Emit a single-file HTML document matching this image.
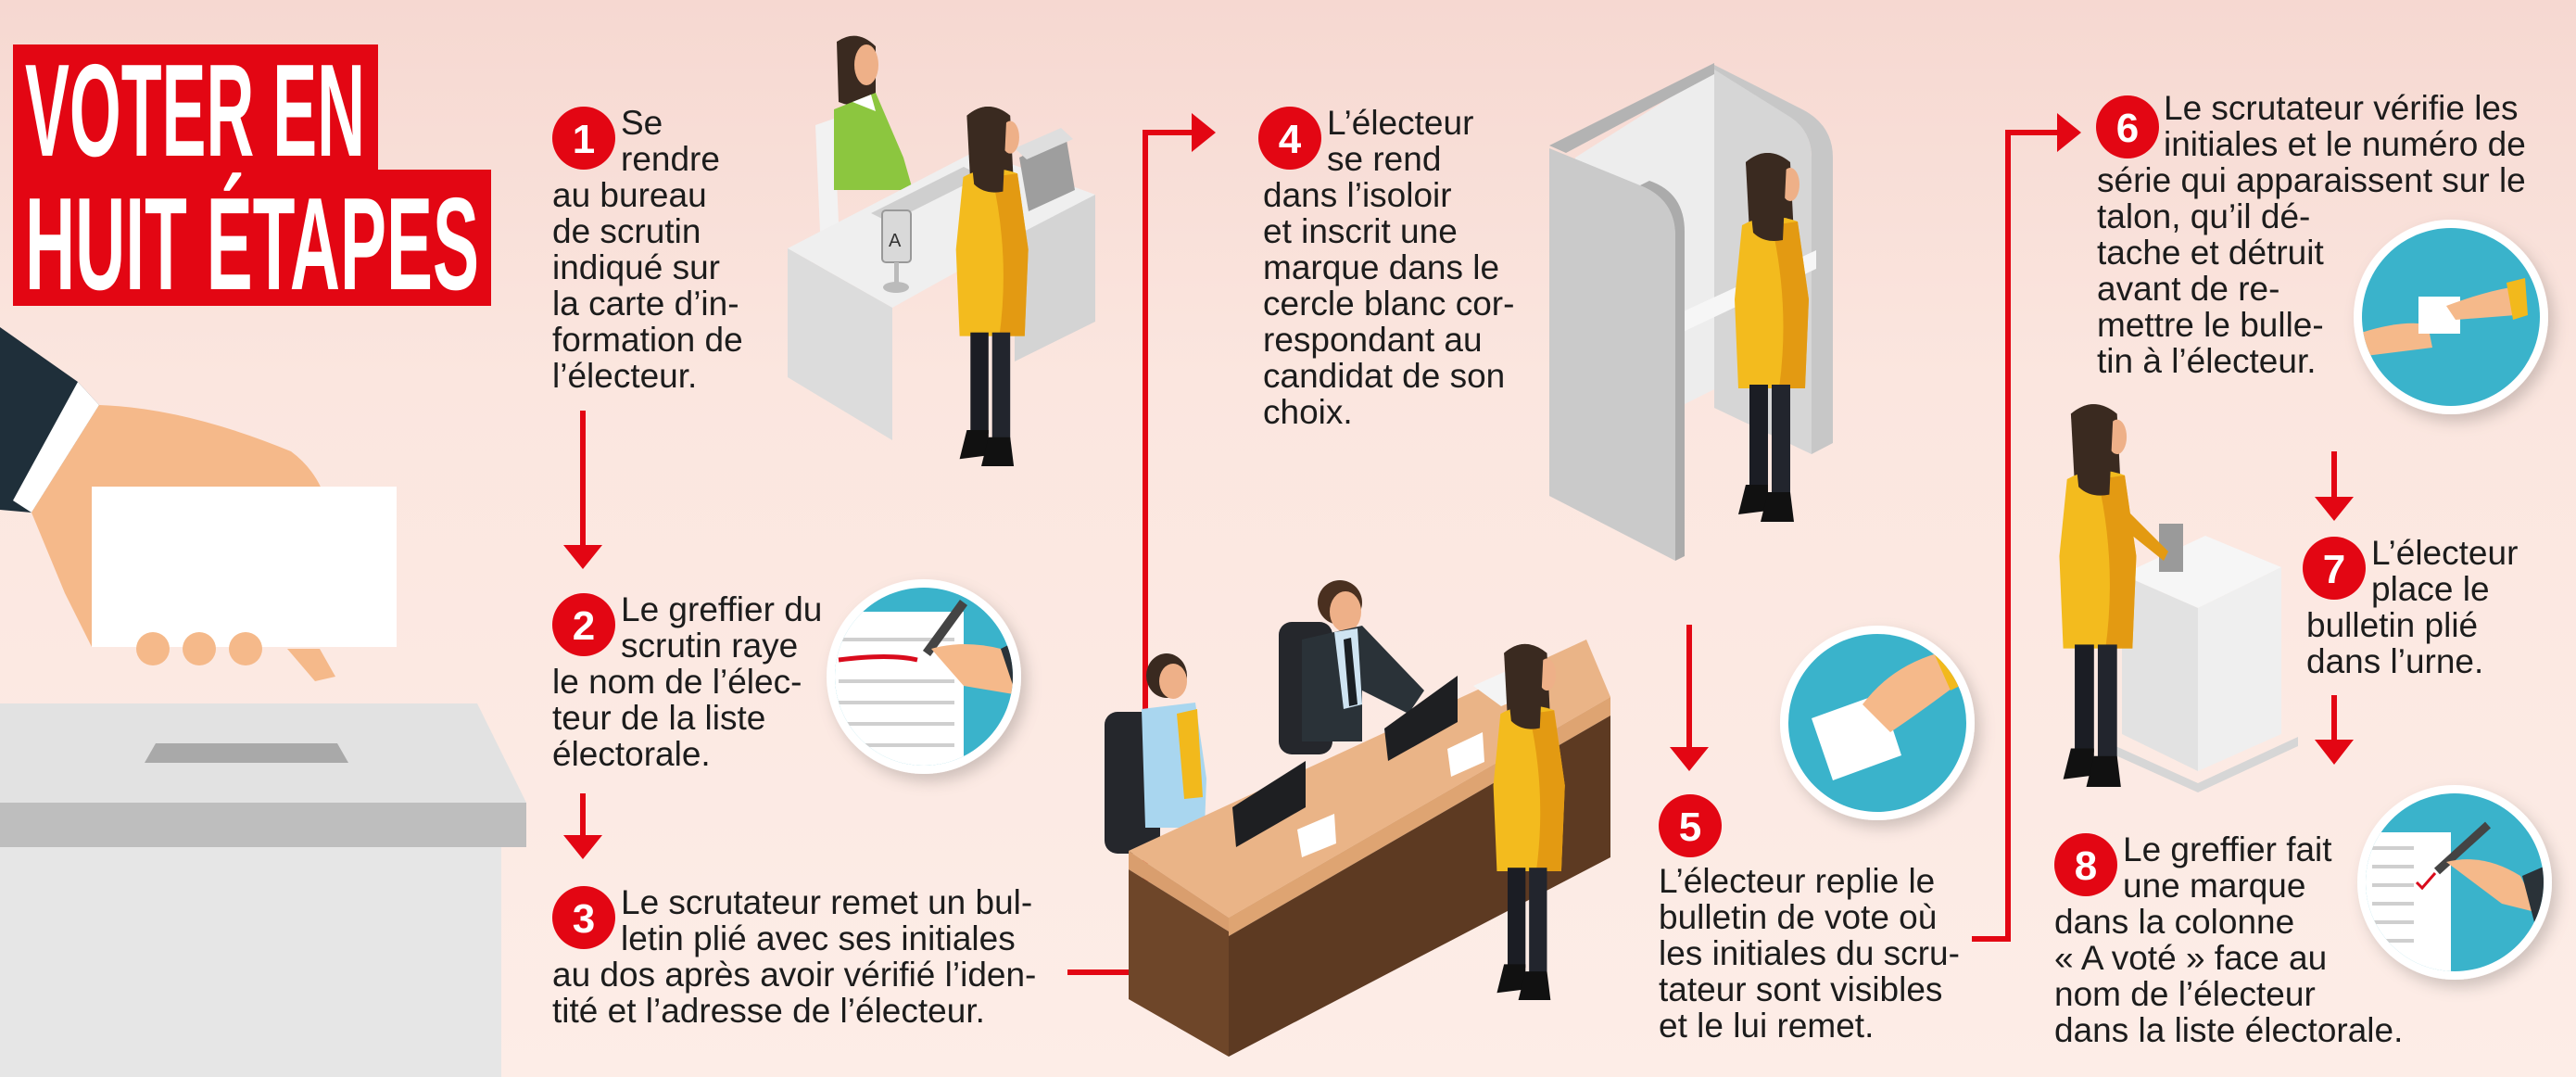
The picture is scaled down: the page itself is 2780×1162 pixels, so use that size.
<!DOCTYPE html>
<html><head><meta charset="utf-8"><style>
html,body{margin:0;padding:0;}
body{width:2780px;height:1162px;overflow:hidden;}
svg{display:block;}
.t{font-family:"Liberation Sans",sans-serif;font-size:37px;fill:#1c1c1c;}
.n{font-family:"Liberation Sans",sans-serif;font-weight:bold;font-size:44px;fill:#fff;text-anchor:middle;}
</style></head><body>
<svg width="2780" height="1162" viewBox="0 0 2780 1162" xmlns="http://www.w3.org/2000/svg">
<defs>
<linearGradient id="bg" x1="0" y1="0" x2="0" y2="1">
<stop offset="0" stop-color="#f6d8d1"/><stop offset="0.35" stop-color="#fbe6df"/><stop offset="1" stop-color="#fdede7"/>
</linearGradient>
<filter id="sh" x="-30%" y="-30%" width="160%" height="160%"><feDropShadow dx="6" dy="8" stdDeviation="8" flood-color="#000" flood-opacity="0.18"/></filter>
<g id="woman">
<path d="M6,3 Q12,-2 18,3 L19,23 Q13,25 7,22 Z" fill="#3a2a20"/>
<ellipse cx="18" cy="9" rx="2.5" ry="4.5" fill="#eeb088"/>
<path d="M5,20 Q12,16 20,19 L23,40 L22,64 L4,64 L3,40 Z" fill="#f3bb1e"/>
<path d="M13,20 L20,19 L23,40 L22,64 L15,64 Q18,42 13,20 Z" fill="#e39a12"/>
<path d="M6,3 Q12,-2 17,3 L16,24 Q11,25 8,22 Z" fill="#3a2a20"/>
<rect x="7" y="63" width="5" height="28" fill="#1b1d24"/>
<rect x="13" y="63" width="5" height="30" fill="#22252d"/>
<path d="M6,90 L12,90 L12,97 L4,98 Z" fill="#111"/>
<path d="M12,92 L18,92 L19,100 L10,100 Z" fill="#111"/>
</g>
</defs>
<rect width="2780" height="1162" fill="url(#bg)"/>

<!-- connectors (behind illustrations) -->
<g stroke="#e30613" stroke-width="6" fill="none">
<line x1="629" y1="443" x2="629" y2="592"/>
<line x1="629" y1="856" x2="629" y2="905"/>
<line x1="1823" y1="674" x2="1823" y2="810"/>
<line x1="2519" y1="487" x2="2519" y2="540"/>
<line x1="2519" y1="750" x2="2519" y2="802"/>
<polyline points="1152,1049 1236,1049 1236,143 1288,143"/>
<polyline points="2128,1013 2167,1013 2167,143 2222,143"/>
</g>
<g fill="#e30613">
<path d="M608,588 L650,588 L629,614 Z"/>
<path d="M608,901 L650,901 L629,927 Z"/>
<path d="M1802,806 L1844,806 L1823,832 Z"/>
<path d="M2498,536 L2540,536 L2519,562 Z"/>
<path d="M2498,798 L2540,798 L2519,825 Z"/>
<path d="M1286,122 L1312,143 L1286,164 Z"/>
<path d="M2220,122 L2246,143 L2220,164 Z"/>
</g>

<!-- title -->
<rect x="14" y="48" width="394" height="136" fill="#e30613"/>
<rect x="14" y="183" width="516" height="147" fill="#e30613"/>
<text x="27" y="168" font-family="Liberation Sans,sans-serif" font-weight="bold" font-size="142" fill="#fff" textLength="367" lengthAdjust="spacingAndGlyphs">VOTER EN</text>
<text x="27" y="312" font-family="Liberation Sans,sans-serif" font-weight="bold" font-size="142" fill="#fff" textLength="490" lengthAdjust="spacingAndGlyphs">HUIT ÉTAPES</text>

<!-- left hand & ballot box -->
<path d="M0,353 L84,412 L107,437 L34,553 L0,550 Z" fill="#1f2f3a"/>
<path d="M84,412 L107,437 L34,553 L14,540 Z" fill="#fff"/>
<path d="M107,437 Q200,440 314,487 Q345,510 354,548 Q345,562 322,555 L300,530 L250,525 L120,530 L99,698 L70,640 L34,553 Z" fill="#f5b98a"/>
<rect x="99" y="525" width="329" height="173" fill="#fff"/>
<circle cx="165" cy="700" r="18" fill="#f5b98a"/><circle cx="215" cy="700" r="18" fill="#f5b98a"/><circle cx="265" cy="700" r="18" fill="#f5b98a"/>
<path d="M310,700 L345,700 L362,730 L340,735 Z" fill="#f5b98a"/>
<path d="M35,759 L515,759 L568,866 L0,866 L0,759 Z" fill="#e2e2e2"/>
<path d="M168,802 L364,802 L376,823 L156,823 Z" fill="#a9a9a9"/>
<rect x="0" y="866" width="568" height="48" fill="#bebebe"/>
<rect x="0" y="914" width="541" height="248" fill="#e6e6e6"/>

<!-- scene 1 desk -->
<path d="M880,135 L900,128 L905,240 L885,250 Z" fill="#f2f2f2"/>
<path d="M903,45 Q925,30 945,50 L945,110 Q925,118 905,110 Z" fill="#3a2a20"/>
<ellipse cx="935" cy="70" rx="13" ry="22" fill="#eeb088"/>
<path d="M900,118 L945,100 L975,170 L985,205 L900,205 Z" fill="#8cc63f"/>
<path d="M920,110 L940,102 L945,120 Z" fill="#fff"/>
<path d="M850,268 L1053,163 L1182,210 L963,332 Z" fill="#efefef"/>
<path d="M850,268 L963,332 L963,475 L850,407 Z" fill="#dcdcdc"/>
<path d="M1095,255 L1182,210 L1182,347 L1095,390 Z" fill="#d4d4d4"/>
<path d="M940,230 L1040,180 L1060,190 L960,240 Z" fill="#cfcfcf"/>
<path d="M1100,170 L1150,145 L1160,205 L1110,228 Z" fill="#9e9e9e"/>
<path d="M1095,160 L1145,138 L1158,150 L1108,172 Z" fill="#dedede"/>
<rect x="952" y="227" width="31" height="56" rx="4" fill="#d9d9d9" stroke="#999" stroke-width="2"/>
<text x="959" y="266" font-family="Liberation Sans,sans-serif" font-size="20" fill="#333">A</text>
<rect x="965" y="283" width="5" height="25" fill="#bbb"/><ellipse cx="967" cy="310" rx="14" ry="6" fill="#bbb"/>
<use href="#woman" transform="translate(1020,113) scale(3.9)"/>

<!-- booth -->
<path d="M1700,170 L1850,75 L1850,420 L1810,440 L1700,380 Z" fill="#ededed"/>
<path d="M1850,70 L1945,118 Q1978,135 1978,170 L1978,478 L1955,490 L1955,170 Q1955,140 1930,128 L1850,88 Z" fill="#c7c7c7"/>
<path d="M1850,75 L1930,125 Q1955,140 1955,170 L1955,490 L1850,440 Z" fill="#d6d6d6"/>
<path d="M1808,340 L1960,270 L1960,290 L1808,362 Z" fill="#f6f6f6"/>
<path d="M1672,157 L1850,68 L1850,80 L1690,165 Z" fill="#b3b3b3"/>
<path d="M1672,160 L1770,200 Q1808,215 1808,255 L1808,605 L1672,535 Z" fill="#cacaca"/>
<path d="M1770,200 Q1808,215 1808,255 L1808,605 L1818,600 L1818,250 Q1818,208 1780,195 Z" fill="#ababab"/>
<use href="#woman" transform="translate(1860,163) scale(4.0)"/>

<!-- central desk scene -->
<rect x="1192" y="768" width="60" height="153" rx="14" fill="#25272c"/>
<ellipse cx="1259" cy="729" rx="22" ry="24" fill="#3a2a20"/>
<ellipse cx="1266" cy="735" rx="15" ry="19" fill="#eeb088"/>
<path d="M1232,765 L1290,758 L1302,840 L1300,893 L1236,893 Z" fill="#a9d6ef"/>
<path d="M1270,770 L1292,765 L1298,860 L1278,862 Z" fill="#f2b91c"/>
<rect x="1380" y="671" width="58" height="143" rx="14" fill="#25272c"/>
<ellipse cx="1446" cy="650" rx="24" ry="24" fill="#4a3020"/>
<ellipse cx="1452" cy="660" rx="17" ry="22" fill="#eeb088"/>
<path d="M1405,690 L1470,675 L1537,745 L1520,770 L1470,745 L1470,800 L1405,800 Z" fill="#2a3238"/>
<path d="M1440,682 L1465,678 L1470,760 L1450,765 Z" fill="#cfe4f2"/>
<path d="M1450,690 L1458,688 L1465,760 L1456,762 Z" fill="#1a1f24"/>
<path d="M1218,918 L1712,690 L1738,752 L1326,990 Z" fill="#eab487"/>
<path d="M1218,918 L1326,990 L1326,1005 L1218,938 Z" fill="#d99e6e"/>
<path d="M1326,990 L1738,752 L1738,772 L1326,1010 Z" fill="#dea472"/>
<path d="M1218,938 L1326,1005 L1326,1140 L1218,1078 Z" fill="#6e4629"/>
<path d="M1326,1010 L1738,772 L1738,925 L1326,1140 Z" fill="#5d3a22"/>
<path d="M1330,871 L1409,821 L1409,871 L1334,914 Z" fill="#1e1f22"/>
<path d="M1494,786 L1573,729 L1573,779 L1498,821 Z" fill="#1e1f22"/>
<path d="M1400,895 L1440,878 L1442,910 L1405,925 Z" fill="#fff"/>
<path d="M1562,808 L1600,790 L1602,822 L1566,838 Z" fill="#fff"/>
<path d="M1590,740 L1630,722 L1660,745 L1620,762 Z" fill="#f4f4f4"/>
<use href="#woman" transform="translate(1600,693) scale(3.86)"/>

<!-- right scene -->
<path d="M2290,620 L2380,578 L2462,612 L2372,656 Z" fill="#f6f6f6"/>
<path d="M2290,620 L2372,656 L2372,832 L2290,792 Z" fill="#e2e2e2"/>
<path d="M2372,656 L2462,612 L2462,792 L2372,832 Z" fill="#efefef"/>
<path d="M2272,800 L2372,845 L2480,795 L2480,805 L2372,855 L2272,810 Z" fill="#d6d6d6"/>
<rect x="2330" y="565" width="26" height="52" fill="#9a9a9a"/>
<use href="#woman" transform="translate(2210,434) scale(4.15)"/>
<path d="M2290,545 L2340,595 L2335,605 L2285,565 Z" fill="#e39a12"/>

<!-- circle images -->
<g filter="url(#sh)">
<circle cx="997" cy="730" r="105" fill="#fff"/>
<circle cx="2026" cy="780" r="105" fill="#fff"/>
<circle cx="2645" cy="342" r="105" fill="#fff"/>
<circle cx="2649" cy="952" r="105" fill="#fff"/>
</g>
<clipPath id="c2"><circle cx="997" cy="730" r="96"/></clipPath>
<g clip-path="url(#c2)">
<rect x="890" y="620" width="220" height="220" fill="#3ab3cb"/>
<rect x="890" y="660" width="150" height="180" fill="#fff"/>
<g stroke="#cfcfcf" stroke-width="4"><line x1="905" y1="690" x2="1030" y2="690"/><line x1="905" y1="735" x2="1030" y2="735"/><line x1="905" y1="758" x2="1030" y2="758"/><line x1="905" y1="781" x2="1030" y2="781"/><line x1="905" y1="804" x2="1030" y2="804"/></g>
<path d="M905,712 Q960,705 990,712" stroke="#d90b1c" stroke-width="5" fill="none"/>
<path d="M1000,705 L1040,650" stroke="#444" stroke-width="10"/>
<path d="M1005,700 Q1040,690 1080,700 L1100,750 L1040,740 Z" fill="#f5b98a"/>
<path d="M1080,700 L1100,690 L1100,760 Z" fill="#2a3238"/>
</g>
<clipPath id="c5"><circle cx="2026" cy="780" r="96"/></clipPath>
<g clip-path="url(#c5)">
<rect x="1920" y="680" width="220" height="220" fill="#3ab3cb"/>
<path d="M1955,775 L2030,748 L2052,815 L1978,842 Z" fill="#fff"/>
<path d="M2010,760 Q2040,720 2090,705 L2110,740 Q2070,770 2040,790 Z" fill="#f5b98a"/>
<path d="M2085,700 L2110,690 L2125,735 L2105,745 Z" fill="#f2b91c"/>
</g>
<clipPath id="c6"><circle cx="2645" cy="342" r="96"/></clipPath>
<g clip-path="url(#c6)">
<rect x="2540" y="240" width="220" height="220" fill="#3ab3cb"/>
<path d="M2545,360 Q2590,345 2620,350 L2625,375 L2545,385 Z" fill="#f5b98a"/>
<rect x="2610" y="320" width="45" height="40" fill="#fff"/>
<path d="M2640,330 Q2680,315 2710,310 L2715,340 L2650,345 Z" fill="#f5b98a"/>
<path d="M2705,305 L2725,300 L2728,340 L2712,345 Z" fill="#f2b91c"/>
</g>
<clipPath id="c8"><circle cx="2649" cy="952" r="96"/></clipPath>
<g clip-path="url(#c8)">
<rect x="2540" y="850" width="220" height="220" fill="#3ab3cb"/>
<rect x="2545" y="898" width="100" height="160" fill="#fff"/>
<g stroke="#cfcfcf" stroke-width="4"><line x1="2560" y1="915" x2="2605" y2="915"/><line x1="2560" y1="935" x2="2605" y2="935"/><line x1="2560" y1="955" x2="2605" y2="955"/><line x1="2560" y1="975" x2="2605" y2="975"/><line x1="2560" y1="995" x2="2605" y2="995"/><line x1="2560" y1="1015" x2="2605" y2="1015"/></g>
<path d="M2608,952 L2614,958 L2628,942" stroke="#d90b1c" stroke-width="3" fill="none"/>
<path d="M2630,940 L2685,890" stroke="#444" stroke-width="9"/>
<path d="M2640,930 Q2680,920 2720,945 L2740,985 L2700,975 Z" fill="#f5b98a"/>
<path d="M2722,945 L2745,935 L2745,990 L2735,995 Z" fill="#2a3238"/>
</g>

<!-- numbered circles -->
<g fill="#e30613">
<circle cx="630" cy="149" r="34"/><circle cx="630" cy="674" r="34"/><circle cx="630" cy="990" r="34"/>
<circle cx="1392" cy="149" r="34"/><circle cx="1824" cy="891" r="34"/><circle cx="2296" cy="137" r="34"/>
<circle cx="2519" cy="613" r="34"/><circle cx="2251" cy="933" r="34"/>
</g>
<text class="n" x="630" y="165">1</text><text class="n" x="630" y="690">2</text><text class="n" x="630" y="1006">3</text>
<text class="n" x="1392" y="165">4</text><text class="n" x="1824" y="907">5</text><text class="n" x="2296" y="153">6</text>
<text class="n" x="2519" y="629">7</text><text class="n" x="2251" y="949">8</text>

<!-- texts -->
<text class="t"><tspan x="670" y="145">Se</tspan><tspan x="670" y="184">rendre</tspan><tspan x="596" y="223">au bureau</tspan><tspan x="596" y="262">de scrutin</tspan><tspan x="596" y="301">indiqué sur</tspan><tspan x="596" y="340">la carte d’in-</tspan><tspan x="596" y="379">formation de</tspan><tspan x="596" y="418">l’électeur.</tspan></text>
<text class="t"><tspan x="670" y="670">Le greffier du</tspan><tspan x="670" y="709">scrutin raye</tspan><tspan x="596" y="748">le nom de l’élec-</tspan><tspan x="596" y="787">teur de la liste</tspan><tspan x="596" y="826">électorale.</tspan></text>
<text class="t"><tspan x="670" y="986">Le scrutateur remet un bul-</tspan><tspan x="670" y="1025">letin plié avec ses initiales</tspan><tspan x="596" y="1064">au dos après avoir vérifié l’iden-</tspan><tspan x="596" y="1103">tité et l’adresse de l’électeur.</tspan></text>
<text class="t"><tspan x="1432" y="145">L’électeur</tspan><tspan x="1432" y="184">se rend</tspan><tspan x="1363" y="223">dans l’isoloir</tspan><tspan x="1363" y="262">et inscrit une</tspan><tspan x="1363" y="301">marque dans le</tspan><tspan x="1363" y="340">cercle blanc cor-</tspan><tspan x="1363" y="379">respondant au</tspan><tspan x="1363" y="418">candidat de son</tspan><tspan x="1363" y="457">choix.</tspan></text>
<text class="t"><tspan x="1790" y="963">L’électeur replie le</tspan><tspan x="1790" y="1002">bulletin de vote où</tspan><tspan x="1790" y="1041">les initiales du scru-</tspan><tspan x="1790" y="1080">tateur sont visibles</tspan><tspan x="1790" y="1119">et le lui remet.</tspan></text>
<text class="t"><tspan x="2335" y="129">Le scrutateur vérifie les</tspan><tspan x="2335" y="168">initiales et le numéro de</tspan><tspan x="2263" y="207">série qui apparaissent sur le</tspan><tspan x="2263" y="246">talon, qu’il dé-</tspan><tspan x="2263" y="285">tache et détruit</tspan><tspan x="2263" y="324">avant de re-</tspan><tspan x="2263" y="363">mettre le bulle-</tspan><tspan x="2263" y="402">tin à l’électeur.</tspan></text>
<text class="t"><tspan x="2559" y="609">L’électeur</tspan><tspan x="2559" y="648">place le</tspan><tspan x="2489" y="687">bulletin plié</tspan><tspan x="2489" y="726">dans l’urne.</tspan></text>
<text class="t"><tspan x="2291" y="929">Le greffier fait</tspan><tspan x="2291" y="968">une marque</tspan><tspan x="2217" y="1007">dans la colonne</tspan><tspan x="2217" y="1046">« A voté » face au</tspan><tspan x="2217" y="1085">nom de l’électeur</tspan><tspan x="2217" y="1124">dans la liste électorale.</tspan></text>
</svg>
</body></html>
